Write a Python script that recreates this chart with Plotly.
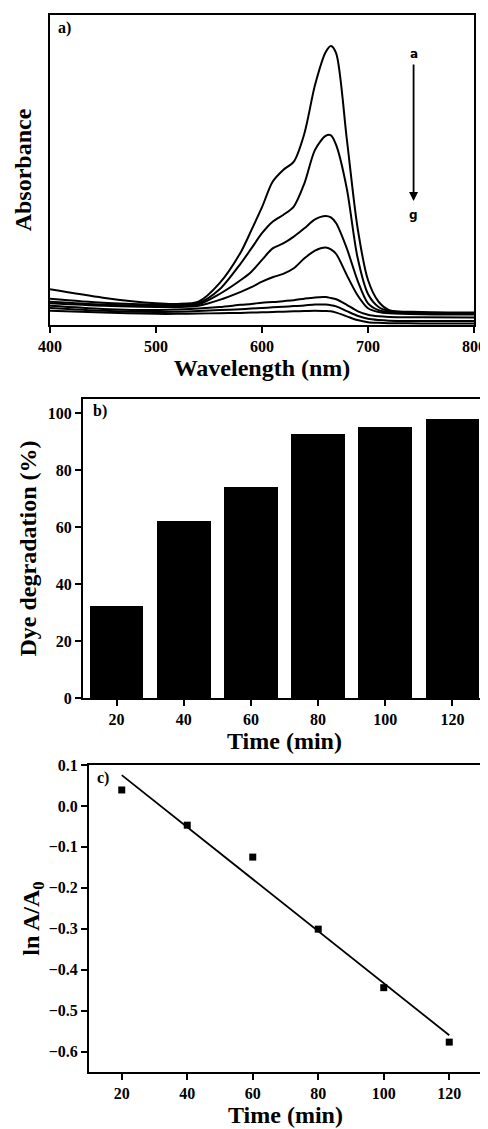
import numpy as np
import plotly.graph_objects as go

# ---------------- Panel a: UV-vis spectra ----------------
wavelength = [400, 450, 500, 520, 540, 560, 580, 590, 600, 610, 620, 630, 640, 650,
              660, 665, 670, 680, 690, 700, 710, 720, 750, 800]
abs_a = [0.115, 0.088, 0.070, 0.068, 0.075, 0.135, 0.235, 0.306, 0.380, 0.462, 0.500, 0.527,
         0.618, 0.774, 0.880, 0.900, 0.876, 0.600, 0.317, 0.145, 0.075, 0.048, 0.042, 0.040]
abs_b = [0.085, 0.072, 0.066, 0.065, 0.070, 0.115, 0.199, 0.247, 0.296, 0.333, 0.355, 0.382,
         0.457, 0.565, 0.610, 0.612, 0.580, 0.440, 0.220, 0.100, 0.058, 0.045, 0.040, 0.038]
abs_c = [0.075, 0.066, 0.062, 0.062, 0.066, 0.100, 0.145, 0.172, 0.210, 0.247, 0.263, 0.285,
         0.312, 0.341, 0.352, 0.347, 0.328, 0.247, 0.145, 0.070, 0.048, 0.042, 0.038, 0.036]
abs_d = [0.070, 0.062, 0.058, 0.058, 0.062, 0.081, 0.107, 0.122, 0.140, 0.154, 0.165, 0.183,
         0.215, 0.240, 0.250, 0.244, 0.229, 0.161, 0.097, 0.054, 0.042, 0.038, 0.035, 0.034]
abs_e = [0.062, 0.052, 0.048, 0.050, 0.053, 0.058, 0.065, 0.068, 0.072, 0.074, 0.077, 0.080,
         0.085, 0.089, 0.090, 0.087, 0.083, 0.065, 0.045, 0.033, 0.028, 0.026, 0.025, 0.024]
abs_f = [0.055, 0.046, 0.042, 0.043, 0.045, 0.048, 0.051, 0.053, 0.055, 0.057, 0.059, 0.061,
         0.063, 0.066, 0.066, 0.064, 0.060, 0.045, 0.030, 0.020, 0.016, 0.014, 0.013, 0.013]
abs_g = [0.046, 0.040, 0.036, 0.036, 0.037, 0.038, 0.039, 0.040, 0.041, 0.042, 0.043, 0.044,
         0.045, 0.046, 0.045, 0.044, 0.040, 0.028, 0.016, 0.009, 0.007, 0.006, 0.005, 0.005]
spectra = [abs_a, abs_b, abs_c, abs_d, abs_e, abs_f, abs_g]
wl_ticks = [400, 500, 600, 700, 800]

# ---------------- Panel b: degradation bars ----------------
time_min = [20, 40, 60, 80, 100, 120]
degradation = [32.4, 62.2, 74.1, 92.6, 95.2, 97.9]
deg_ticks = [0, 20, 40, 60, 80, 100]

# ---------------- Panel c: kinetics ----------------
ln_ratio = [0.039, -0.047, -0.125, -0.301, -0.444, -0.577]

FONT = "Liberation Serif"
fig = go.Figure()

for ys in spectra:
    fig.add_trace(go.Scatter(x=wavelength, y=ys, mode="lines",
                             line=dict(color="black", width=2, shape="spline", smoothing=0.8),
                             xaxis="x", yaxis="y", showlegend=False, hoverinfo="skip"))

fig.add_trace(go.Bar(x=time_min, y=degradation, width=16, marker=dict(color="black", line=dict(width=0)),
                     xaxis="x2", yaxis="y2", showlegend=False))

slope, intercept = np.polyfit(time_min, ln_ratio, 1)
fit_x = [min(time_min), max(time_min)]
fit_y = [slope * t + intercept for t in fit_x]
fig.add_trace(go.Scatter(x=fit_x, y=fit_y, mode="lines", line=dict(color="black", width=1.8),
                         xaxis="x3", yaxis="y3", showlegend=False))
fig.add_trace(go.Scatter(x=time_min, y=ln_ratio, mode="markers",
                         marker=dict(symbol="square", size=7, color="black"),
                         xaxis="x3", yaxis="y3", showlegend=False))

# page body has an 8px margin; the figure is sized/placed to compensate
OFF = 8
W, H = 488 - OFF, 1129 - OFF
def xd(a, b):
    return [(a - OFF) / W, (b - OFF) / W]
def yd(top, bot):
    return [1 - (bot - OFF) / H, 1 - (top - OFF) / H]

axis_common = dict(showline=True, linecolor="black", linewidth=2, mirror=True,
                   showgrid=False, zeroline=False, ticks="outside", ticklen=6, tickwidth=2,
                   tickcolor="black",
                   tickfont=dict(family=FONT, size=16, color="black", weight="bold"),
                   automargin=False)
title_font = dict(family=FONT, size=24, color="black", weight="bold")

fig.update_layout(
    width=W, height=H, margin=dict(l=0, r=0, t=0, b=0),
    paper_bgcolor="white", plot_bgcolor="white",
    bargap=0,
    xaxis=dict(domain=xd(50, 474), range=[400, 800], tickvals=wl_ticks, anchor="y",
               title=dict(text="Wavelength (nm)", font=title_font, standoff=1), **axis_common),
    yaxis=dict(domain=yd(15, 325), range=[0, 1.0], anchor="x",
               showticklabels=False,
               title=dict(text="Absorbance", font=title_font, standoff=10),
               **{**axis_common, "ticks": ""}),
    xaxis2=dict(domain=xd(83, 486), range=[10, 130], tickvals=time_min, anchor="y2",
                title=dict(text="Time (min)", font=title_font, standoff=1), **axis_common),
    yaxis2=dict(domain=yd(399, 698), range=[0, 105], tickvals=deg_ticks, anchor="x2",
                title=dict(text="Dye degradation (%)", font=title_font, standoff=4), **axis_common),
    xaxis3=dict(domain=xd(89, 482), range=[10, 130], tickvals=time_min, anchor="y3",
                title=dict(text="Time (min)", font=title_font, standoff=2), **axis_common),
    yaxis3=dict(domain=yd(765, 1072), range=[-0.65, 0.1], dtick=0.1, tick0=0, tickformat=".1f",
                anchor="x3",
                title=dict(text="ln A/A<sub>0</sub>", font=title_font, standoff=2), **axis_common),
)

lab_font = dict(family=FONT, size=16, color="black", weight="bold")
fig.add_annotation(text="a)", xref="x domain", yref="y domain", x=0.015, y=0.995,
                   xanchor="left", yanchor="top", showarrow=False, font=lab_font)
fig.add_annotation(text="b)", xref="x2 domain", yref="y2 domain", x=0.02, y=0.995,
                   xanchor="left", yanchor="top", showarrow=False, font=lab_font)
fig.add_annotation(text="c)", xref="x3 domain", yref="y3 domain", x=0.015, y=0.995,
                   xanchor="left", yanchor="top", showarrow=False, font=lab_font)

small_font = dict(family="DejaVu Sans", size=12, color="black", weight="bold")
fig.add_annotation(text="a", xref="x", yref="y", x=743, y=0.875, showarrow=False, font=small_font)
fig.add_annotation(text="g", xref="x", yref="y", x=743, y=0.355, showarrow=False, font=small_font)
fig.add_annotation(x=743, y=0.40, ax=743, ay=0.845, xref="x", yref="y", axref="x", ayref="y",
                   text="", showarrow=True, arrowhead=2, arrowsize=1, arrowwidth=1.8,
                   arrowcolor="black")

fig.write_html("out.html")
